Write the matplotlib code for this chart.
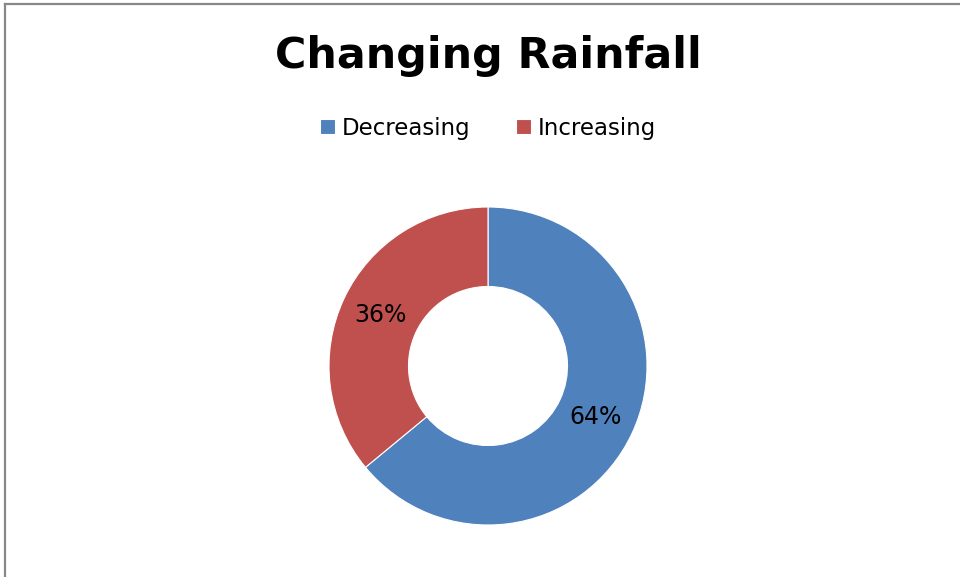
import matplotlib
matplotlib.use("Agg")
import matplotlib.pyplot as plt
from matplotlib.lines import Line2D

# Share of locations by rainfall trend
labels = ["Decreasing", "Increasing"]
shares = [64, 36]
colors = ["#4F81BD", "#C0504D"]

W, H = 960, 577
fig = plt.figure(figsize=(W / 100, H / 100), dpi=100)

# donut: centre and outer radius in pixels
cx, cy, r = 488, 366, 159
ax = fig.add_axes([(cx - r) / W, (H - cy - r) / H, 2 * r / W, 2 * r / H])
wedges, texts, autotexts = ax.pie(
    shares,
    colors=colors,
    startangle=90,
    counterclock=False,
    autopct="%d%%",
    pctdistance=0.75,
    wedgeprops=dict(width=0.5, edgecolor="white", linewidth=0.8),
    textprops=dict(fontsize=17, color="black"),
)
ax.set_xlim(-1, 1)
ax.set_ylim(-1, 1)
ax.set_aspect("equal")

fig.text(cx / W, 1 - 56 / H, "Changing Rainfall", ha="center", va="center",
         fontsize=30.8, fontweight="bold")

fig.legend(wedges, labels, loc="center", bbox_to_anchor=(cx / W, 1 - 128 / H),
           ncol=2, frameon=False, fontsize=16.5, handlelength=0.65, handleheight=0.65,
           handletextpad=0.3, columnspacing=2.0)

# chart area border (top and left edges)
bx, by = 5 / W, 1 - 4 / H
fig.add_artist(Line2D([bx, bx], [0, by], color="#888888", lw=1.6))
fig.add_artist(Line2D([bx, 1], [by, by], color="#888888", lw=1.6))

fig.savefig("out.png", dpi=100)
